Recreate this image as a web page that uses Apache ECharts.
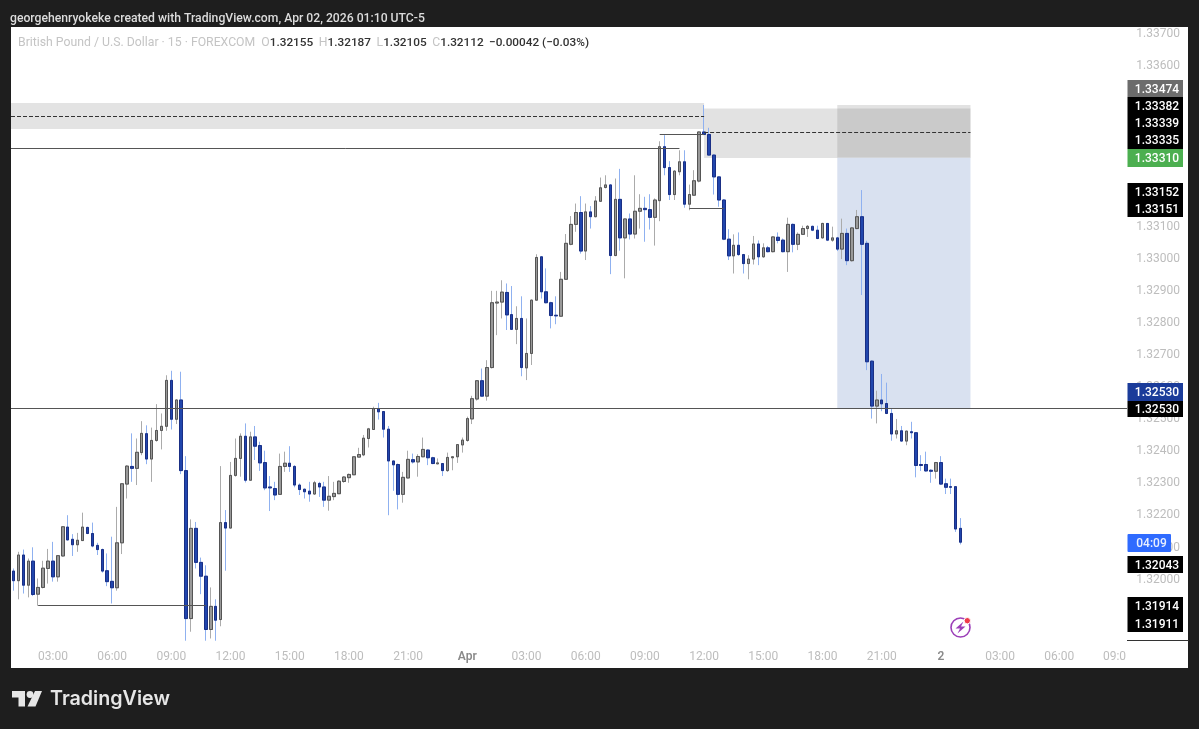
<!DOCTYPE html>
<html>
<head>
<meta charset="utf-8">
<style>html,body{margin:0;padding:0;background:#1e1e1e;overflow:hidden}#c{width:1199px;height:729px}</style>
<script src="https://cdn.jsdelivr.net/npm/echarts@6/dist/echarts.min.js"></script>
</head>
<body>
<div id="c"></div>
<script>
const opens=[1.32022,1.31992,1.32072,1.31978,1.32053,1.31950,1.31971,1.32030,1.32053,1.32004,
1.32069,1.32159,1.32121,1.32104,1.32117,1.32158,1.32139,1.32102,1.32089,1.32023,
1.31990,1.31970,1.32110,1.32293,1.32348,1.32342,1.32391,1.32450,1.32371,1.32429,
1.32460,1.32473,1.32616,1.32495,1.32555,1.32335,1.31874,1.32155,1.32049,1.32006,
1.31840,1.31912,1.31871,1.32173,1.32156,1.32320,1.32373,1.32442,1.32305,1.32440,
1.32413,1.32360,1.32284,1.32279,1.32261,1.32348,1.32358,1.32348,1.32290,1.32277,
1.32271,1.32262,1.32295,1.32284,1.32243,1.32254,1.32263,1.32301,1.32313,1.32322,
1.32377,1.32384,1.32435,1.32463,1.32528,1.32519,1.32464,1.32365,1.32354,1.32261,
1.32312,1.32369,1.32362,1.32378,1.32399,1.32375,1.32356,1.32357,1.32335,1.32375,
1.32378,1.32415,1.32429,1.32496,1.32558,1.32615,1.32567,1.32656,1.32857,1.32860,
1.32890,1.32821,1.32775,1.32809,1.32655,1.32700,1.32866,1.33001,1.32892,1.32858,
1.32819,1.32816,1.32931,1.33040,1.33102,1.33139,1.33019,1.33141,1.33126,1.33174,
1.33217,1.33225,1.33005,1.33180,1.33060,1.33119,1.33072,1.33143,1.33152,1.33148,
1.33124,1.33176,1.33344,1.33279,1.33195,1.33266,1.33297,1.33165,1.33193,1.33237,
1.33390,1.33382,1.33318,1.33250,1.33178,1.33056,1.33004,1.33037,1.33008,1.32980,
1.32994,1.33041,1.33001,1.33029,1.33017,1.33062,1.33053,1.33017,1.33102,1.33040,
1.33071,1.33089,1.33096,1.33084,1.33060,1.33105,1.33053,1.33060,1.33025,1.33074,
1.32989,1.33089,1.33126,1.33043,1.32676,1.32536,1.32555,1.32544,1.32513,1.32449,
1.32459,1.32427,1.32456,1.32453,1.32354,1.32354,1.32336,1.32333,1.32360,1.32294,
1.32285,1.32285,1.32155];
const closes=[1.31992,1.32072,1.31978,1.32053,1.31949,1.31971,1.32031,1.32053,1.32004,1.32070,
1.32160,1.32119,1.32104,1.32118,1.32159,1.32139,1.32100,1.32089,1.32022,1.31989,
1.31970,1.32110,1.32294,1.32349,1.32342,1.32392,1.32451,1.32371,1.32429,1.32460,
1.32473,1.32616,1.32495,1.32555,1.32335,1.31874,1.32155,1.32049,1.32006,1.31840,
1.31912,1.31869,1.32173,1.32156,1.32320,1.32373,1.32442,1.32305,1.32440,1.32411,
1.32359,1.32281,1.32281,1.32259,1.32348,1.32358,1.32348,1.32290,1.32276,1.32269,
1.32262,1.32297,1.32284,1.32243,1.32255,1.32264,1.32302,1.32315,1.32323,1.32378,
1.32385,1.32436,1.32465,1.32528,1.32518,1.32464,1.32365,1.32353,1.32261,1.32314,
1.32370,1.32362,1.32379,1.32401,1.32375,1.32357,1.32359,1.32335,1.32376,1.32378,
1.32416,1.32430,1.32497,1.32559,1.32615,1.32567,1.32656,1.32858,1.32860,1.32891,
1.32820,1.32775,1.32809,1.32656,1.32700,1.32866,1.32999,1.32892,1.32858,1.32818,
1.32817,1.32931,1.33043,1.33102,1.33139,1.33019,1.33141,1.33126,1.33175,1.33216,
1.33225,1.33005,1.33180,1.33060,1.33119,1.33072,1.33143,1.33152,1.33148,1.33124,
1.33178,1.33344,1.33279,1.33195,1.33268,1.33297,1.33165,1.33195,1.33238,1.33390,
1.33382,1.33318,1.33250,1.33178,1.33056,1.33004,1.33037,1.33008,1.32980,1.32994,
1.33041,1.33001,1.33029,1.33017,1.33063,1.33052,1.33017,1.33102,1.33040,1.33071,
1.33089,1.33096,1.33084,1.33058,1.33105,1.33053,1.33060,1.33025,1.33074,1.32989,
1.33091,1.33126,1.33040,1.32674,1.32536,1.32555,1.32543,1.32513,1.32449,1.32459,
1.32427,1.32458,1.32453,1.32351,1.32351,1.32334,1.32333,1.32360,1.32293,1.32283,
1.32283,1.32153,1.32112];
const highs=[1.32030,1.32082,1.32089,1.32061,1.32096,1.31999,1.32054,1.32091,1.32113,1.32072,
1.32162,1.32196,1.32137,1.32141,1.32204,1.32160,1.32173,1.32110,1.32092,1.32077,
1.32129,1.32222,1.32295,1.32352,1.32451,1.32435,1.32489,1.32476,1.32469,1.32542,
1.32513,1.32632,1.32646,1.32557,1.32643,1.32380,1.32183,1.32175,1.32064,1.32040,
1.31971,1.31934,1.32349,1.32212,1.32362,1.32435,1.32451,1.32482,1.32456,1.32474,
1.32425,1.32397,1.32318,1.32300,1.32388,1.32394,1.32411,1.32352,1.32295,1.32279,
1.32300,1.32303,1.32300,1.32300,1.32318,1.32300,1.32305,1.32318,1.32326,1.32380,
1.32406,1.32446,1.32468,1.32534,1.32546,1.32520,1.32474,1.32366,1.32357,1.32331,
1.32397,1.32388,1.32386,1.32438,1.32401,1.32378,1.32373,1.32358,1.32391,1.32380,
1.32417,1.32438,1.32503,1.32568,1.32617,1.32653,1.32679,1.32895,1.32895,1.32928,
1.32918,1.32910,1.32847,1.32878,1.32809,1.32868,1.33009,1.33003,1.32965,1.32861,
1.32878,1.32954,1.33072,1.33128,1.33167,1.33190,1.33167,1.33159,1.33190,1.33248,
1.33255,1.33227,1.33245,1.33275,1.33120,1.33136,1.33255,1.33196,1.33188,1.33196,
1.33183,1.33361,1.33380,1.33299,1.33271,1.33333,1.33333,1.33226,1.33271,1.33392,
1.33474,1.33403,1.33320,1.33252,1.33181,1.33087,1.33071,1.33077,1.33010,1.33006,
1.33066,1.33052,1.33043,1.33035,1.33065,1.33077,1.33058,1.33123,1.33105,1.33077,
1.33098,1.33100,1.33098,1.33098,1.33107,1.33106,1.33095,1.33063,1.33120,1.33089,
1.33094,1.33147,1.33209,1.33051,1.32679,1.32584,1.32636,1.32609,1.32529,1.32496,
1.32474,1.32459,1.32487,1.32454,1.32383,1.32394,1.32339,1.32362,1.32380,1.32310,
1.32310,1.32287,1.32187];
const lows=[1.31961,1.31934,1.31952,1.31940,1.31944,1.31914,1.31968,1.31983,1.31989,1.31989,
1.32067,1.32118,1.32069,1.32082,1.32116,1.32137,1.32096,1.32072,1.32017,1.31975,
1.31921,1.31961,1.32075,1.32248,1.32300,1.32290,1.32383,1.32355,1.32300,1.32425,
1.32401,1.32459,1.32463,1.32480,1.32324,1.31805,1.31833,1.32030,1.31950,1.31805,
1.31812,1.31805,1.31850,1.32023,1.32155,1.32316,1.32316,1.32298,1.32303,1.32368,
1.32334,1.32274,1.32209,1.32243,1.32260,1.32331,1.32331,1.32283,1.32259,1.32248,
1.32238,1.32259,1.32253,1.32222,1.32210,1.32243,1.32262,1.32297,1.32297,1.32321,
1.32376,1.32380,1.32407,1.32462,1.32494,1.32438,1.32196,1.32272,1.32214,1.32235,
1.32311,1.32357,1.32316,1.32377,1.32352,1.32355,1.32355,1.32318,1.32331,1.32336,
1.32359,1.32391,1.32425,1.32480,1.32553,1.32565,1.32553,1.32653,1.32757,1.32809,
1.32773,1.32773,1.32729,1.32629,1.32617,1.32664,1.32864,1.32871,1.32856,1.32778,
1.32791,1.32814,1.32930,1.33037,1.33079,1.33011,1.32991,1.33089,1.33124,1.33172,
1.33214,1.32947,1.33003,1.33020,1.32934,1.33055,1.33058,1.33089,1.33048,1.33086,
1.33036,1.33112,1.33255,1.33178,1.33178,1.33255,1.33154,1.33146,1.33191,1.33233,
1.33380,1.33316,1.33195,1.33157,1.33053,1.32991,1.32949,1.33004,1.32949,1.32931,
1.32977,1.32975,1.32998,1.33015,1.33015,1.33043,1.33015,1.32954,1.33015,1.33022,
1.33069,1.33063,1.33081,1.33056,1.33058,1.33050,1.33048,1.33019,1.32994,1.32975,
1.32986,1.33087,1.32882,1.32648,1.32497,1.32482,1.32520,1.32511,1.32428,1.32435,
1.32425,1.32414,1.32435,1.32314,1.32334,1.32331,1.32297,1.32310,1.32290,1.32262,
1.32262,1.32144,1.32105];

const slotCount=239;
const tickIndex=[8,20,32,44,56,68,80,92,104,116,128,140,152,164,176,188,200,212,224];
const tickLabels=['03:00','06:00','09:00','12:00','15:00','18:00','21:00','Apr','03:00','06:00','09:00','12:00','15:00','18:00','21:00','2','03:00','06:00','09:0'];
const priceTicks=[1.319,1.32,1.321,1.322,1.323,1.324,1.325,1.326,1.327,1.328,1.329,1.33,1.331,1.332,1.333,1.334,1.335,1.336,1.337];
const tagTexts=['1.33474','1.33382','1.33339','1.33335','1.33310','1.33152','1.33151','1.32530','1.32530','1.32043','1.31914','1.31911'];

const categories=Array.from({length:slotCount},(_,i)=>{const k=tickIndex.indexOf(i);return k>=0?tickLabels[k]:String(i)});
const wickData=opens.map((o,i)=>[o,closes[i],lows[i],highs[i]]);
const bodyData=opens.map((o,i)=>[o,closes[i],Math.min(o,closes[i]),Math.max(o,closes[i])]);

// layout of the price tags (stacked by the price scale, not at their prices)
const tagTop=[80,97,114,131,149,183,200,383,401,556,597,615];
const tagFill=['#6c6c6c','#000','#000','#000','#4caf50','#000','#000','#1b3c9a','#000','#000','#000','#000'];
const tagH=[17,17,17,18,18,17,17,18,16,17,18,17];
const FONT='Roboto,"Open Sans",sans-serif';

const graphicEls=[
 {type:'rect',z:-5,silent:true,shape:{x:11,y:27,width:1177,height:641},style:{fill:'#ffffff'}},
 {type:'text',z:20,style:{x:10,y:18.5,text:'georgehenryokeke created with TradingView.com, Apr 02, 2026 01:10 UTC-5',fill:'#dcdcdc',font:'500 12.2px '+FONT,verticalAlign:'middle'}},
 {type:'text',z:20,style:{x:18,y:43,text:'{a|British Pound / U.S. Dollar · 15 · FOREXCOM  O}{b|1.32155}{a| \u2009H}{b|1.32187}{a| \u2009L}{b|1.32105}{a| \u2009C}{b|1.32112}{c| \u2009−0.00042 (−0.03%)}',
   verticalAlign:'middle',rich:{a:{fill:'#c4c4c4',font:'12.25px '+FONT},b:{fill:'#333',font:'500 11.8px '+FONT},c:{fill:'#333',font:'500 11.8px '+FONT}}}},
 {type:'rect',z:20,silent:true,shape:{x:1127,y:640,width:62,height:1},style:{fill:'#333'}},
 // time to bar close
 {type:'rect',z:21,silent:true,shape:{x:1127.5,y:534,width:43.5,height:18,r:1},style:{fill:'#2f6bff'}},
 {type:'text',z:22,style:{x:1151.5,y:544,text:'04:09',fill:'#e8efff',font:'500 12px '+FONT,align:'center',verticalAlign:'middle'}},
 // flash icon
 {type:'circle',z:20,shape:{cx:960.5,cy:627.5,r:9.5},style:{fill:'none',stroke:'#9c3fb8',lineWidth:1.6}},
 {type:'circle',z:21,shape:{cx:967.3,cy:620.7,r:3.2},style:{fill:'#ef3a4a',stroke:'#fff',lineWidth:1}},
 {type:'polygon',z:20,shape:{points:[[963.5,621.5],[955.5,628.5],[960,628.5],[957.5,633.5],[965.5,626.5],[961,626.5]]},style:{fill:'#9c3fb8'}},
 // TradingView logo
 {type:'polygon',z:20,shape:{points:[[12,691],[25,691],[25,706.5],[18.5,706.5],[18.5,697.5],[12,697.5]]},style:{fill:'#e6e6e6'}},
 {type:'circle',z:20,shape:{cx:30,cy:694.5,r:3.4},style:{fill:'#e6e6e6'}},
 {type:'polygon',z:20,shape:{points:[[35,691],[42,691],[35.5,706.5],[27.5,706.5]]},style:{fill:'#e6e6e6'}},
 {type:'text',z:20,style:{x:50,y:699,text:'TradingView',fill:'#e6e6e6',font:'600 19.7px Inter,'+FONT,verticalAlign:'middle'}}
];
tagTexts.forEach((t,i)=>{
  graphicEls.push({type:'rect',z:21,silent:true,shape:{x:1127.5,y:tagTop[i],width:55.5,height:tagH[i]},style:{fill:tagFill[i]}});
  graphicEls.push({type:'text',z:22,style:{x:1157,y:tagTop[i]+tagH[i]/2+1,text:t,fill:'#fff',font:'500 12px '+FONT,align:'center',verticalAlign:'middle'}});
});

const solid={type:'solid',color:'#555',width:1};
const dashed={type:'dashed',color:'#333',width:1};
const chart=echarts.init(document.getElementById('c'),null,{renderer:'canvas'});
chart.setOption({
  animation:false,
  backgroundColor:'#1e1e1e',
  graphic:{elements:graphicEls},
  grid:{left:11,top:27,width:1179,bottom:61,containLabel:false},
  xAxis:{type:'category',data:categories,boundaryGap:true,
    axisLine:{show:false},axisTick:{show:false},splitLine:{show:false},
    axisLabel:{inside:true,margin:5,color:'#bdbdbd',fontFamily:FONT,fontSize:12,hideOverlap:false,
      interval:i=>tickIndex.includes(i),
      formatter:v=>(v==='Apr'||v==='2')?'{b|'+v+'}':(v==='09:0'?'{c|'+v+'}':v),
      rich:{b:{color:'#8a8a8a',fontWeight:600,fontSize:12,fontFamily:FONT},c:{color:'#bdbdbd',fontSize:12,fontFamily:FONT,padding:[0,8,0,0]}}}},
  yAxis:{type:'value',position:'right',min:1.3172,max:1.33717,scale:true,
    axisLine:{show:false},axisTick:{show:false},splitLine:{show:false},
    axisLabel:{inside:true,margin:10,color:'#bdbdbd',fontFamily:FONT,fontSize:12,customValues:priceTicks,formatter:v=>'{t|'+v.toFixed(5)+'}',
      rich:{t:{color:'#bdbdbd',fontFamily:FONT,fontSize:12,padding:[3,0,0,0]}}}},
  series:[
    {name:'wicks',type:'candlestick',data:wickData,barWidth:3,silent:true,z:2,
      itemStyle:{color:'#999999',color0:'#2146ad',borderColor:'#ababab',borderColor0:'#8fb1f0',borderWidth:1},
      markArea:{silent:true,z:1,data:[
        [{x:11,yAxis:1.3348,itemStyle:{color:'#e3e3e3'}},{xAxis:140,yAxis:1.33399}],
        [{xAxis:140,yAxis:1.33463,itemStyle:{color:'rgba(110,110,110,0.2)'}},{xAxis:194,yAxis:1.33309}],
        [{xAxis:167,yAxis:1.33474,itemStyle:{color:'rgba(110,110,110,0.2)'}},{xAxis:194,yAxis:1.3331}],
        [{xAxis:167,yAxis:1.3331,itemStyle:{color:'#d9e1f0'}},{xAxis:194,yAxis:1.3253}]
      ]},
      markLine:{silent:true,symbol:'none',z:5,label:{show:false},data:[
        [{x:11,yAxis:1.3253,lineStyle:solid},{x:1127,yAxis:1.3253}],
        [{x:11,yAxis:1.33339,lineStyle:solid},{xAxis:135,yAxis:1.33339}],
        [{xAxis:131,yAxis:1.33382,lineStyle:solid},{xAxis:140,yAxis:1.33382}],
        [{xAxis:137,yAxis:1.33152,lineStyle:solid},{xAxis:144,yAxis:1.33152}],
        [{xAxis:5,yAxis:1.31914,lineStyle:solid},{xAxis:39,yAxis:1.31914}],
        [{x:11,yAxis:1.33439,lineStyle:dashed},{xAxis:140,yAxis:1.33439}],
        [{xAxis:140,yAxis:1.33388,lineStyle:dashed},{xAxis:194,yAxis:1.33388}]
      ]}
    },
    {name:'GBPUSD',type:'candlestick',data:bodyData,barWidth:3,silent:true,z:3,
      itemStyle:{color:'#999999',color0:'#2146ad',borderColor:'#555555',borderColor0:'#1a2f85',borderWidth:1}}
  ]
});
</script>
</body>
</html>
